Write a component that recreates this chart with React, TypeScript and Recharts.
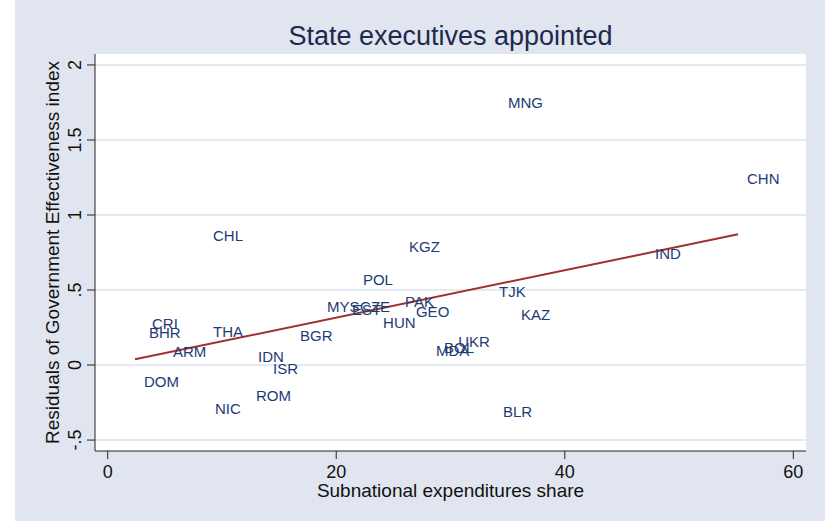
import { ScatterChart, Scatter, XAxis, YAxis, CartesianGrid } from 'recharts'

// country codes, subnational expenditure share (x), residual of gov. effectiveness (y)
const codes = ['MNG', 'CHN', 'IND', 'CHL', 'KGZ', 'POL', 'TJK', 'PAK', 'MYS', 'EST', 'CZE', 'HUN', 'GEO', 'KAZ',
  'BGR', 'MDA', 'BOL', 'UKR', 'BLR', 'CRI', 'BHR', 'THA', 'ARM', 'IDN', 'ISR', 'DOM', 'ROM', 'NIC']
const shares = [34.24, 55.16, 47.11, 8.43, 25.58, 21.55, 33.46, 25.23, 18.4, 20.6, 21.3, 23.31, 26.19, 35.38,
  16.04, 27.94, 28.65, 29.88, 33.8, 3.09, 2.83, 8.43, 4.93, 12.37, 13.68, 2.39, 12.19, 8.6]
const residuals = [1.753, 1.24, 0.745, 0.862, 0.793, 0.573, 0.487, 0.422, 0.393, 0.373, 0.393, 0.282, 0.36, 0.34,
  0.2, 0.1, 0.12, 0.155, -0.307, 0.28, 0.215, 0.222, 0.087, 0.06, -0.024, -0.113, -0.2, -0.289]

// fitted line end points
const fitX = [2.39, 55.16]
const fitY = [0.038, 0.871]

const xTicks = [0, 20, 40, 60]
const yTicks = [-0.5, 0, 0.5, 1, 1.5, 2]
const yTickLabels = ['-.5', '0', '.5', '1', '1.5', '2']

const FONT = '"Liberation Sans", Arial, Helvetica, sans-serif'
const BG = '#e0e5ef'
const GRID = '#dde3ee'
const AXIS = '#222'
const NAVY = '#1d3b74'

const points = codes.map((code, i) => ({ code, x: shares[i], y: residuals[i] }))
const fitLine = fitX.map((x, i) => ({ x, y: fitY[i] }))

function CountryLabel(props: any) {
  const { cx, cy, payload } = props
  return (
    <text x={cx + 9} y={cy} dominantBaseline="central" fontSize={15} fill={NAVY} fontFamily={FONT}>
      {payload.code}
    </text>
  )
}

function YTick(props: any) {
  const { x, y, payload } = props
  const idx = yTicks.indexOf(payload.value)
  const bx = x - 3.5
  return (
    <text x={bx} y={y} transform={`rotate(-90, ${bx}, ${y})`} textAnchor="middle"
      fontSize={18} fill="#111" fontFamily={FONT}>
      {idx >= 0 ? yTickLabels[idx] : payload.value}
    </text>
  )
}

export default function App() {
  return (
    <div style={{ position: 'absolute', left: 0, top: 0, width: 825, height: 527, background: '#fff', fontFamily: FONT }}>
      <div style={{ position: 'absolute', left: 15, top: 0, width: 810, height: 521, background: BG }}>
        <div style={{
          position: 'absolute', left: 80, top: 23, width: 711, textAlign: 'center',
          fontSize: 27, lineHeight: '27px', color: '#1c2a4e',
        }}>
          State executives appointed
        </div>
        <ScatterChart width={810} height={521} margin={{ top: 54, right: 19, left: 0, bottom: 0 }}>
          <CartesianGrid fill="#fff" stroke={GRID} strokeWidth={1.5} vertical={false} horizontalValues={yTicks} />
          <XAxis
            type="number"
            dataKey="x"
            domain={[-1.11, 61.11]}
            ticks={xTicks}
            allowDataOverflow
            height={70}
            stroke={AXIS}
            tickSize={8}
            tickMargin={6}
            tick={{ fontSize: 18, fill: '#111', fontFamily: FONT }}
            label={{
              content: ({ viewBox }: any) => (
                <text x={viewBox.x + viewBox.width / 2} y={viewBox.y + 46} textAnchor="middle"
                  fontSize={19} fill="#111" fontFamily={FONT}>
                  Subnational expenditures share
                </text>
              ),
            }}
          />
          <YAxis
            type="number"
            dataKey="y"
            domain={[-0.573, 2.073]}
            ticks={yTicks}
            allowDataOverflow
            width={80}
            stroke={AXIS}
            tickSize={8}
            tick={<YTick />}
            label={{
              content: ({ viewBox }: any) => {
                const lx = viewBox.x + 44
                const ly = viewBox.y + viewBox.height / 2
                return (
                  <text x={lx} y={ly} transform={`rotate(-90, ${lx}, ${ly})`} textAnchor="middle"
                    fontSize={19} fill="#111" fontFamily={FONT}>
                    Residuals of Government Effectiveness index
                  </text>
                )
              },
            }}
          />
          <Scatter data={fitLine} line={{ stroke: '#a0302f', strokeWidth: 2 }} shape={() => <g />}
            isAnimationActive={false} />
          <Scatter data={points} shape={<CountryLabel />} isAnimationActive={false} />
        </ScatterChart>
      </div>
    </div>
  )
}
